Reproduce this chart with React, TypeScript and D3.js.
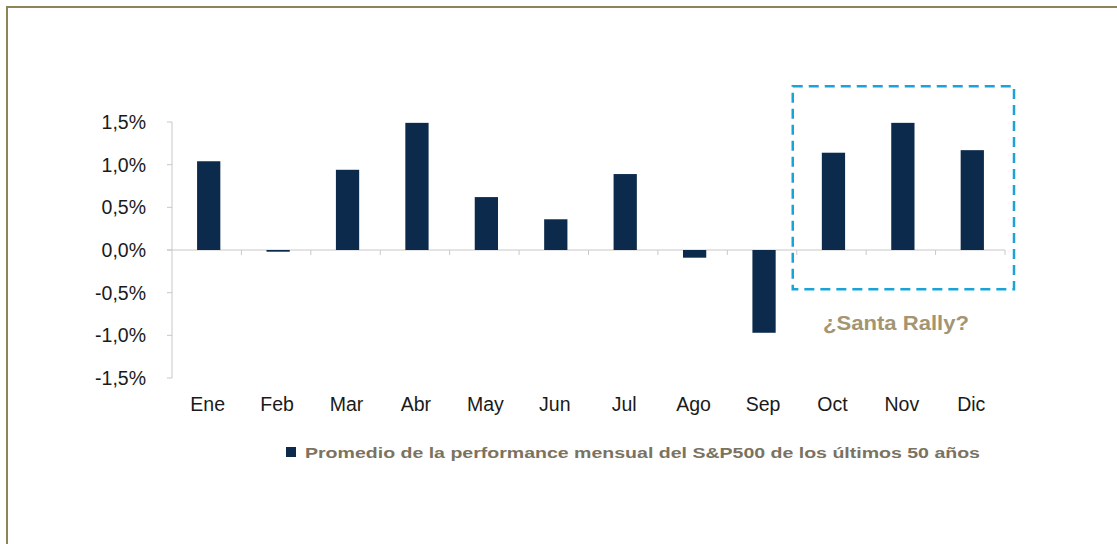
import React from "react";
import * as d3 from "d3";

const months = ["Ene", "Feb", "Mar", "Abr", "May", "Jun", "Jul", "Ago", "Sep", "Oct", "Nov", "Dic"];
const values = [1.04, -0.02, 0.94, 1.49, 0.62, 0.36, 0.89, -0.09, -0.97, 1.14, 1.49, 1.17];
const yTicks = [1.5, 1.0, 0.5, 0.0, -0.5, -1.0, -1.5];
const legendLabel = "Promedio de la performance mensual del S&P500 de los últimos 50 años";
const annotation = "¿Santa Rally?";
const highlightMonths = ["Oct", "Dic"];
const highlightRange = [1.92, -0.46];

const W = 1117;
const H = 544;
const FONT = "Arial, 'Liberation Sans', Helvetica, sans-serif";

export default function App() {
  const x = d3.scaleBand<string>().domain(months).range([172, 1005]).padding(0);
  const y = d3.scaleLinear().domain([-1.5, 1.5]).range([378, 122]);
  const bw = x.bandwidth() * 0.335;
  const fmt = (v: number) => v.toFixed(1).replace(".", ",") + "%";
  const axisColor = "#c8c8c8";
  const barColor = "#0b2a4c";
  const labelSize = 19.5;

  const boxX0 = (x(highlightMonths[0]) as number) - 4;
  const boxX1 = (x(highlightMonths[1]) as number) + x.bandwidth() + 9;
  const boxY0 = y(highlightRange[0]);
  const boxY1 = y(highlightRange[1]);

  return (
    <svg
      width={W}
      height={H}
      style={{ position: "absolute", left: 0, top: 0, background: "#fff" }}
      fontFamily={FONT}
    >
      <rect x={0} y={0} width={W} height={H} fill="#fff" />
      <rect x={7} y={7} width={W + 50} height={H + 50} fill="none" stroke="#8c8555" strokeWidth={2} />

      {/* y axis */}
      <line x1={172} x2={172} y1={y(1.5)} y2={y(-1.5)} stroke={axisColor} strokeWidth={1} />
      {yTicks.map((t) => (
        <g key={t}>
          <line x1={167} x2={172} y1={y(t)} y2={y(t)} stroke={axisColor} />
          <text x={146} y={y(t)} dy="0.36em" textAnchor="end" fontSize={labelSize} fill="#1a1a1a">
            {fmt(t)}
          </text>
        </g>
      ))}

      {/* x axis at zero */}
      <line x1={167} x2={1005} y1={y(0)} y2={y(0)} stroke={axisColor} strokeWidth={1} />
      {months.map((m) => (
        <line
          key={"t" + m}
          x1={(x(m) as number) + x.bandwidth()}
          x2={(x(m) as number) + x.bandwidth()}
          y1={y(0)}
          y2={y(0) + 5}
          stroke={axisColor}
        />
      ))}

      {/* bars */}
      {months.map((m, i) => {
        const v = values[i];
        const cx = (x(m) as number) + x.bandwidth() / 2 + 2;
        const y0 = y(Math.max(0, v));
        const y1 = y(Math.min(0, v));
        return (
          <rect
            key={m}
            x={cx - bw / 2}
            y={y0}
            width={bw}
            height={Math.max(1.5, y1 - y0)}
            fill={barColor}
          />
        );
      })}

      {/* month labels */}
      {months.map((m) => (
        <text
          key={"l" + m}
          x={(x(m) as number) + x.bandwidth() / 2 + 1}
          y={411}
          textAnchor="middle"
          fontSize={labelSize}
          fill="#1a1a1a"
        >
          {m}
        </text>
      ))}

      {/* highlight box */}
      <rect
        x={boxX0}
        y={boxY0}
        width={boxX1 - boxX0}
        height={boxY1 - boxY0}
        fill="none"
        stroke="#1aa3d6"
        strokeWidth={2.5}
        strokeDasharray="10 6"
      />
      <text x={823} y={330} fontSize={20} fontWeight="bold" fill="#a39572" textLength={146} lengthAdjust="spacingAndGlyphs">
        {annotation}
      </text>

      {/* legend */}
      <rect x={286} y={447} width={10} height={10} fill={barColor} />
      <text x={305} y={458} fontSize={14.5} fontWeight="bold" fill="#7b7260" textLength={675} lengthAdjust="spacingAndGlyphs">
        {legendLabel}
      </text>
    </svg>
  );
}
